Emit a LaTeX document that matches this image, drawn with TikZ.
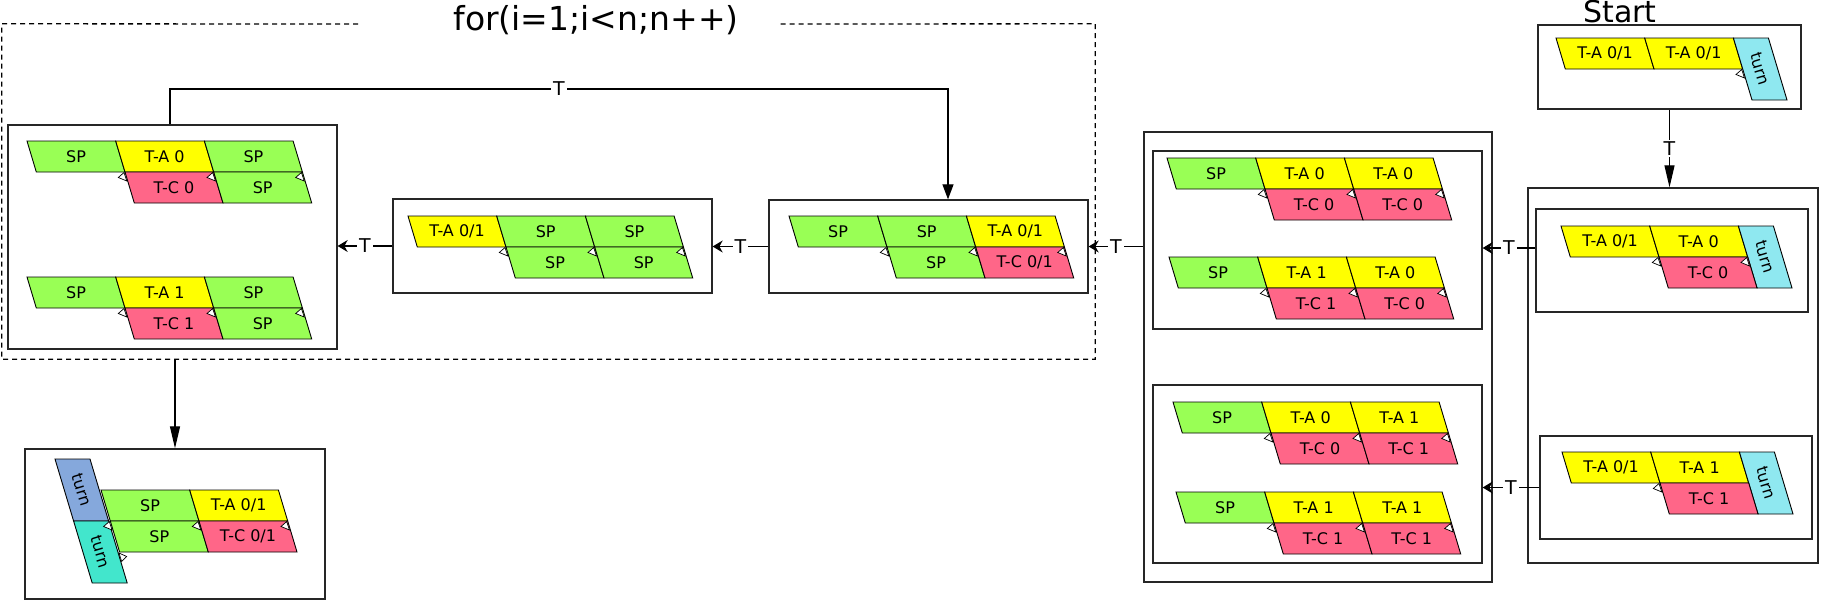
\documentclass[tikz,border=0pt]{standalone}
\usepackage{fontspec}
\setmainfont{DejaVu Sans}
\usepackage{xcolor}
\usepackage{tikz}
\usetikzlibrary{arrows.meta}

\definecolor{spgreen}{RGB}{153,255,85}
\definecolor{tayellow}{RGB}{255,255,0}
\definecolor{tcpink}{RGB}{255,102,136}
\definecolor{turncyan}{RGB}{143,232,240}
\definecolor{turnblue}{RGB}{133,168,220}
\definecolor{turnteal}{RGB}{66,230,204}

%celle: x0, y0, kolonne, rad, stil, tekst
\newcommand{\cel}[6]{%
  \filldraw[cell,#5] ({#1+#3*88.7+#4*9.3},{#2+#4*31}) -- ++(88.7,0) -- ++(9.3,31) -- ++(-88.7,0) -- cycle;
  \node[celltext] at ({#1+#3*88.7+#4*9.3+49},{#2+#4*31+15.5}) {#6};}
%turn: x, y, stil
\newcommand{\turn}[3]{%
  \filldraw[cell,#3] (#1,#2) -- ++(35,0) -- ++(18.6,62) -- ++(-35,0) -- cycle;
  \node[celltext, rotate=-73] at ({#1+26.8},{#2+31}) {turn};}
%liten trekant: x0, y0, kolonne, rad
\newcommand{\tri}[4]{%
  \filldraw[flagg] ({#1+#3*88.7+#4*9.3-1},{#2+#4*31+0.5}) -- ++(2.8,8.5) -- ++(-8.5,-3.5) -- cycle;}

\begin{document}
\begin{tikzpicture}[x=1pt, y=-1pt,
    box/.style={draw=black!85, line width=1.3pt, inner sep=0pt},
    cell/.style={draw=black, line width=0.9pt},
    sp/.style={fill=spgreen}, ta/.style={fill=tayellow}, tc/.style={fill=tcpink},
    celltext/.style={font=\fontsize{16}{18}\selectfont, inner sep=0pt},
    flagg/.style={draw=black, fill=white, line width=0.7pt},
    lbl/.style={fill=white, inner sep=2pt, font=\fontsize{19}{21}\selectfont},
    pilh/.style={line width=1.2pt, -{Stealth[length=10pt,width=12pt]}},
    pilv/.style={line width=1.2pt, -{Triangle[length=22pt,width=10pt]}},
    pilt/.style={line width=1.2pt, -{Triangle[length=15pt,width=11pt]}},
    ramme/.style={line width=1.3pt, dash pattern=on 5pt off 4pt}]
\useasboundingbox (0,0) rectangle (1821,600);

%Boksene går her
\node[minimum width=1093, minimum height=335, inner sep=0pt] (loop) at (548.5,191.5) {};
\node[box, minimum width=329, minimum height=224] (l) at (172.5,237) {};
\node[box, minimum width=319, minimum height=94] (m) at (552.5,246) {};
\node[box, minimum width=319, minimum height=93] (n) at (928.5,246.5) {};
\node[box, minimum width=300, minimum height=150] (bot) at (175,524) {};
\node[box, minimum width=348, minimum height=450] (big) at (1318,357) {};
\node[box, minimum width=329, minimum height=178] (b1) at (1317.5,240) {};
\node[box, minimum width=329, minimum height=178] (b2) at (1317.5,474) {};
\node[box, minimum width=290, minimum height=375] (r) at (1673,375.5) {};
\node[box, minimum width=272, minimum height=103] (r1) at (1672,260.5) {};
\node[box, minimum width=272, minimum height=103] (r2) at (1676,487.5) {};
\node[box, minimum width=263, minimum height=84] (start) at (1669.5,67) {};

%Tekst
\node[anchor=base, inner sep=0pt, font=\fontsize{33}{37}\selectfont] (title) at (596,30) {for(i=1;i<n;n++)};
\node[anchor=base, inner sep=0pt, font=\fontsize{30}{34}\selectfont] (startlbl) at (1620,22) {Start};

%Løkkerammen
\coordinate (g1) at (358,24);
\coordinate (g2) at (777,24);
\draw[ramme] (g1) -- (loop.north west) -- (loop.south west) -- (loop.south east) -- (loop.north east) -- (g2);

%Cellene
\cel{27}{141}{0}{0}{sp}{SP} \cel{27}{141}{1}{0}{ta}{T-A 0} \cel{27}{141}{2}{0}{sp}{SP}
\cel{27}{141}{1}{1}{tc}{T-C 0} \cel{27}{141}{2}{1}{sp}{SP}
\tri{27}{141}{1}{1} \tri{27}{141}{2}{1} \tri{27}{141}{3}{1}
\cel{27}{277}{0}{0}{sp}{SP} \cel{27}{277}{1}{0}{ta}{T-A 1} \cel{27}{277}{2}{0}{sp}{SP}
\cel{27}{277}{1}{1}{tc}{T-C 1} \cel{27}{277}{2}{1}{sp}{SP}
\tri{27}{277}{1}{1} \tri{27}{277}{2}{1} \tri{27}{277}{3}{1}

\cel{408}{216}{0}{0}{ta}{T-A 0/1} \cel{408}{216}{1}{0}{sp}{SP} \cel{408}{216}{2}{0}{sp}{SP}
\cel{408}{216}{1}{1}{sp}{SP} \cel{408}{216}{2}{1}{sp}{SP}
\tri{408}{216}{1}{1} \tri{408}{216}{2}{1} \tri{408}{216}{3}{1}

\cel{789}{216}{0}{0}{sp}{SP} \cel{789}{216}{1}{0}{sp}{SP} \cel{789}{216}{2}{0}{ta}{T-A 0/1}
\cel{789}{216}{1}{1}{sp}{SP} \cel{789}{216}{2}{1}{tc}{T-C 0/1}
\tri{789}{216}{1}{1} \tri{789}{216}{2}{1} \tri{789}{216}{3}{1}

\cel{1167}{158}{0}{0}{sp}{SP} \cel{1167}{158}{1}{0}{ta}{T-A 0} \cel{1167}{158}{2}{0}{ta}{T-A 0}
\cel{1167}{158}{1}{1}{tc}{T-C 0} \cel{1167}{158}{2}{1}{tc}{T-C 0}
\tri{1167}{158}{1}{1} \tri{1167}{158}{2}{1} \tri{1167}{158}{3}{1}
\cel{1169}{257}{0}{0}{sp}{SP} \cel{1169}{257}{1}{0}{ta}{T-A 1} \cel{1169}{257}{2}{0}{ta}{T-A 0}
\cel{1169}{257}{1}{1}{tc}{T-C 1} \cel{1169}{257}{2}{1}{tc}{T-C 0}
\tri{1169}{257}{1}{1} \tri{1169}{257}{2}{1} \tri{1169}{257}{3}{1}
\cel{1173}{402}{0}{0}{sp}{SP} \cel{1173}{402}{1}{0}{ta}{T-A 0} \cel{1173}{402}{2}{0}{ta}{T-A 1}
\cel{1173}{402}{1}{1}{tc}{T-C 0} \cel{1173}{402}{2}{1}{tc}{T-C 1}
\tri{1173}{402}{1}{1} \tri{1173}{402}{2}{1} \tri{1173}{402}{3}{1}
\cel{1176}{492}{0}{0}{sp}{SP} \cel{1176}{492}{1}{0}{ta}{T-A 1} \cel{1176}{492}{2}{0}{ta}{T-A 1}
\cel{1176}{492}{1}{1}{tc}{T-C 1} \cel{1176}{492}{2}{1}{tc}{T-C 1}
\tri{1176}{492}{1}{1} \tri{1176}{492}{2}{1} \tri{1176}{492}{3}{1}

\cel{1561}{226}{0}{0}{ta}{T-A 0/1} \cel{1561}{226}{1}{0}{ta}{T-A 0} \turn{1738.4}{226}{fill=turncyan}
\cel{1561}{226}{1}{1}{tc}{T-C 0}
\tri{1561}{226}{1}{1} \tri{1561}{226}{2}{1}
\cel{1562}{452}{0}{0}{ta}{T-A 0/1} \cel{1562}{452}{1}{0}{ta}{T-A 1} \turn{1739.4}{452}{fill=turncyan}
\cel{1562}{452}{1}{1}{tc}{T-C 1}
\tri{1562}{452}{1}{1}

\cel{1556}{38}{0}{0}{ta}{T-A 0/1} \cel{1556}{38}{1}{0}{ta}{T-A 0/1} \turn{1733.4}{38}{fill=turncyan}
\tri{1556}{38}{2}{1}

\turn{55}{459}{fill=turnblue} \turn{73.6}{521}{fill=turnteal}
\cel{91.7}{459}{0}{1}{sp}{SP} \cel{91.7}{459}{1}{1}{ta}{T-A 0/1}
\cel{91.7}{459}{0}{2}{sp}{SP} \cel{91.7}{459}{1}{2}{tc}{T-C 0/1}
\tri{91.7}{459}{0}{2} \tri{91.7}{459}{1}{2} \tri{91.7}{459}{2}{2}
\filldraw[flagg] (118.9,553) -- ++(2.8,8.5) -- ++(5,-5) -- cycle;

%Pilene her
\coordinate (k1) at (170,89);
\coordinate (k2) at (948,89);
\coordinate (h1) at (0,248);
\draw[pilh] (r1.west |- h1) -- node[lbl]{T} (b1.east |- h1);
\draw[pilh] (r2.west) -- node[lbl]{T} (r2.west -| b2.east);
\draw[pilh] (big.west |- n.east) -- node[lbl]{T} (n.east);
\draw[pilh] (n.west) -- node[lbl]{T} (n.west -| m.east);
\draw[pilh] (m.west) -- node[lbl]{T} (m.west -| l.east);
\draw[pilv] (start.south) -- node[lbl]{T} (start.south |- r.north);
\draw[pilv] (bot.north |- loop.south) -- (bot.north);
\draw[pilt] (k1 |- l.north) -- (k1) -- node[lbl]{T} (k2) -- (k2 |- n.north);

\end{tikzpicture}
\end{document}
